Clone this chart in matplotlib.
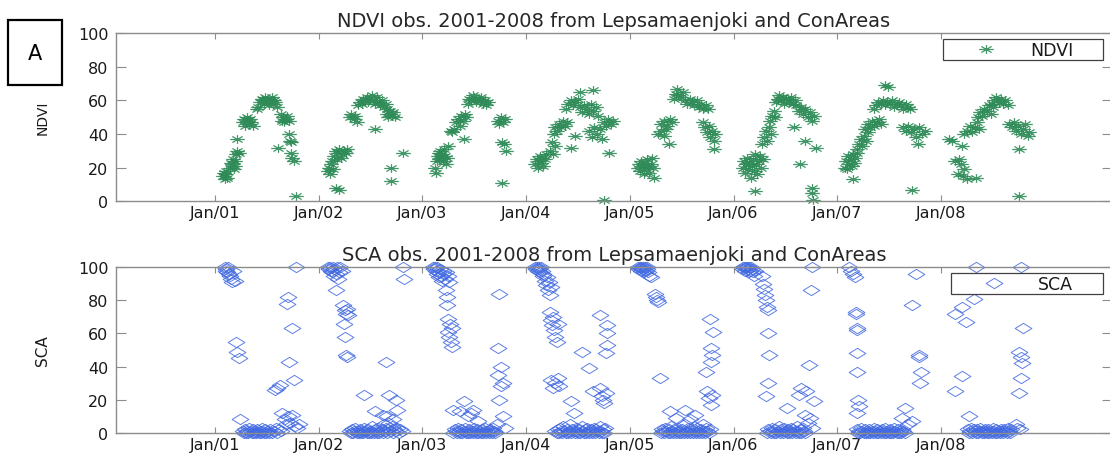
import matplotlib
matplotlib.use("Agg")
import matplotlib.pyplot as plt
from matplotlib.path import Path
from matplotlib.patches import Rectangle

# ---------------- data (day-of-year, value) per year ----------------
years = [2001, 2002, 2003, 2004, 2005, 2006, 2007, 2008]
xtick_labels = ["Jan/01", "Jan/02", "Jan/03", "Jan/04", "Jan/05", "Jan/06", "Jan/07", "Jan/08"]

ndvi_2001 = [(30,15),(33,17),(36,13),(38,18),(40,16),(42,14),(55,20),(58,23),(62,22),(64,25),(66,19),
             (70,24),(72,21),(76,28),(80,30),(84,29),(78,37),(100,47),(104,49),(108,45),(112,50),(116,48),
             (120,46),(124,49),(128,47),(135,45),(148,55),(152,56),(160,59),(165,61),(170,60),(172,58),
             (176,62),(180,60),(184,59),(188,61),(192,57),(196,60),(200,62),(204,58),(208,60),(212,59),
             (218,56),(221,32),(232,52),(236,48),(240,50),(244,47),(250,49),(256,51),(262,48),(262,40),
             (266,36),(270,35),(268,29),(272,26),(278,24),(287,3)]
ndvi_2002 = [(34,18),(38,20),(40,16),(44,22),(47,24),(52,19),(56,27),(60,30),(64,25),(68,29),(72,31),
             (78,26),(84,28),(90,30),(96,29),(102,31),(62,8),(74,7),(110,50),(116,52),(124,49),(130,51),
             (136,47),(140,57),(146,59),(152,58),(158,61),(164,60),(170,62),(176,59),(182,61),(188,63),
             (194,60),(200,58),(206,62),(212,59),(218,57),(224,60),(230,56),(236,58),(242,55),(199,43),
             (240,52),(246,50),(252,54),(258,51),(264,53),(270,50),(254,20),(256,12),(297,29)]
ndvi_2003 = [(45,20),(48,17),(52,24),(55,27),(58,29),(61,25),(64,30),(67,26),(70,28),(73,24),(76,31),
             (80,27),(84,22),(88,26),(92,33),(100,42),(106,41),(112,43),(120,47),(126,49),(132,45),
             (138,51),(144,48),(150,52),(156,50),(146,37),(160,58),(166,61),(172,60),(178,63),(184,62),
             (190,59),(196,61),(202,60),(208,62),(214,58),(220,60),(226,57),(232,59),(266,48),(272,46),
             (278,50),(284,47),(290,49),(280,35),(288,34),(296,30),(282,11)]
ndvi_2004 = [(33,22),(38,25),(42,20),(46,24),(50,27),(54,23),(58,26),(62,21),(66,25),(70,28),(92,35),
             (98,40),(104,44),(86,30),(96,28),(104,33),(110,42),(116,46),(122,44),(130,48),(138,45),
             (146,47),(140,55),(150,58),(158,60),(166,57),(174,59),(182,61),(191,65),(235,66),(190,56),
             (198,53),(206,57),(214,55),(222,52),(230,58),(238,54),(246,56),(254,51),(160,32),(172,39),
             (224,42),(232,38),(240,44),(250,40),(260,43),(268,37),(274,47),(282,45),(290,49),(298,46),
             (306,48),(292,29),(274,1)]
ndvi_2005 = [(30,20),(34,22),(38,18),(42,24),(46,21),(50,16),(54,23),(58,19),(62,25),(66,21),(70,17),
             (74,22),(78,26),(82,20),(86,14),(100,40),(110,42),(120,39),(130,43),(140,34),(112,46),
             (122,48),(132,45),(142,49),(150,47),(156,61),(162,64),(166,67),(172,63),(180,62),(188,65),
             (196,60),(204,58),(212,61),(220,59),(228,57),(236,60),(244,56),(252,58),(260,55),(268,57),
             (276,55),(260,47),(266,44),(272,41),(278,45),(284,38),(290,42),(296,36),(302,40),(298,31)]
ndvi_2006 = [(33,20),(37,24),(41,17),(45,22),(49,26),(53,19),(57,23),(61,14),(65,21),(69,25),(73,18),
             (77,28),(81,22),(85,16),(89,24),(93,27),(97,20),(105,25),(77,6),(100,34),(108,38),(114,42),
             (120,36),(126,44),(132,40),(130,48),(136,51),(142,54),(148,50),(150,59),(156,61),(162,63),
             (168,60),(174,62),(180,58),(186,61),(192,60),(198,59),(204,62),(210,58),(216,60),(222,57),
             (230,54),(238,56),(246,52),(254,55),(262,50),(270,53),(278,48),(286,51),(215,44),(234,22),
             (253,36),(290,32),(276,8),(278,5),(280,1)]
ndvi_2007 = [(28,20),(32,24),(36,19),(40,27),(44,22),(48,25),(52,21),(56,28),(60,23),(64,26),(70,29),
             (57,13),(72,31),(78,34),(84,37),(90,33),(96,39),(102,36),(108,41),(100,43),(108,46),(116,44),
             (124,48),(132,45),(140,47),(148,49),(156,46),(130,55),(138,57),(146,59),(154,58),(162,60),
             (170,57),(178,59),(186,58),(194,60),(202,56),(210,58),(218,59),(226,57),(234,55),(242,58),
             (250,56),(258,55),(168,69),(180,68),(234,44),(242,42),(250,45),(260,41),(270,43),(280,38),
             (290,44),(300,40),(310,42),(264,7),(285,34)]
ndvi_2008 = [(28,37),(40,36),(75,33),(50,24),(60,16),(66,25),(72,22),(78,15),(84,19),(92,13),(126,14),
             (84,40),(94,42),(104,45),(112,41),(120,44),(128,47),(136,43),(130,50),(138,53),(146,51),
             (154,55),(162,54),(170,57),(178,52),(186,56),(180,58),(188,60),(196,62),(204,59),(212,61),
             (220,58),(228,60),(236,57),(240,46),(250,44),(258,47),(266,42),(274,45),(282,40),(290,43),
             (298,46),(306,39),(312,41),(277,31),(276,3)]

sca_2001 = [(35,100),(38,99),(41,98),(44,97),(47,100),(50,96),(53,95),(56,93),(60,91),(64,98),(70,92),
            (76,55),(80,49),(84,45),(88,8),(98,1),(102,0),(106,2),(110,0),(114,1),(118,0),(122,3),(126,1),
            (130,0),(134,2),(138,0),(142,1),(146,0),(150,2),(154,0),(158,1),(162,0),(166,3),(170,1),
            (174,0),(178,2),(182,0),(186,1),(190,0),(196,2),(202,0),(208,1),(214,3),(220,0),(226,2),
            (232,1),(212,26),(220,27),(228,29),(238,12),(246,8),(252,5),(258,10),(266,6),(272,11),
            (258,82),(256,78),(272,63),(262,43),(280,32),(287,100),(282,4),(290,3),(296,5)]
sca_2002 = [(35,100),(38,99),(41,100),(44,98),(47,97),(50,100),(53,99),(56,95),(60,96),(64,100),(68,93),
            (72,97),(76,100),(82,98),(60,86),(88,77),(92,74),(96,72),(100,75),(104,71),(90,66),(92,58),
            (98,47),(100,46),(110,1),(114,0),(118,2),(122,0),(126,1),(130,3),(134,0),(138,1),(142,0),
            (146,2),(150,0),(154,1),(158,0),(162,3),(166,1),(170,0),(174,2),(178,0),(182,1),(186,0),
            (190,4),(194,0),(198,2),(202,1),(206,0),(210,3),(214,0),(218,1),(222,2),(226,0),(230,5),
            (234,1),(238,3),(242,0),(246,2),(250,6),(254,1),(258,4),(262,0),(266,2),(270,1),(276,3),
            (282,0),(288,2),(294,1),(161,23),(198,13),(236,43),(249,23),(272,20),(276,14),(262,8),
            (240,10),(228,11),(299,100),(300,93)]
sca_2003 = [(39,100),(42,99),(45,100),(48,98),(51,96),(54,100),(57,97),(60,94),(63,99),(66,95),(69,92),
            (72,98),(75,96),(80,93),(85,97),(90,95),(95,91),(83,86),(86,82),(88,77),(92,69),(98,66),
            (104,63),(90,61),(96,58),(100,55),(106,52),(110,0),(114,2),(118,1),(122,0),(126,3),(130,1),
            (134,0),(138,2),(142,0),(146,1),(150,3),(154,0),(158,1),(162,0),(166,2),(170,0),(174,1),
            (178,0),(182,3),(186,1),(190,0),(194,2),(198,0),(202,1),(206,0),(210,2),(214,0),(218,1),
            (222,3),(226,0),(230,1),(234,0),(238,2),(242,1),(246,0),(250,3),(254,1),(258,0),(110,14),
            (146,19),(171,12),(196,7),(134,13),(160,10),(180,14),(272,84),(267,51),(278,40),(266,35),
            (284,30),(272,20),(284,10),(276,28),(262,5),(290,3)]
sca_2004 = [(33,100),(36,99),(39,100),(42,98),(45,100),(48,99),(51,97),(54,100),(57,98),(60,96),(62,95),
            (66,92),(70,89),(74,94),(78,86),(82,91),(86,83),(90,88),(84,73),(88,68),(92,65),(96,70),
            (100,62),(104,58),(108,55),(112,66),(90,32),(96,27),(104,30),(112,33),(116,28),(104,1),
            (108,0),(112,2),(116,0),(120,3),(124,1),(128,0),(132,4),(136,1),(140,0),(144,2),(148,0),
            (152,1),(156,5),(160,0),(164,2),(168,1),(172,0),(176,3),(180,1),(184,0),(188,2),(192,0),
            (196,4),(200,1),(204,0),(208,2),(212,0),(216,3),(220,1),(224,0),(228,2),(232,0),(236,1),
            (240,3),(244,0),(248,2),(252,1),(256,0),(260,4),(264,1),(268,0),(272,2),(276,0),(280,3),
            (197,49),(222,39),(160,19),(170,12),(235,25),(262,27),(268,22),(276,18),(282,24),(272,20),
            (260,71),(285,65),(286,60),(284,53),(283,48)]
sca_2005 = [(30,100),(33,99),(36,100),(39,98),(42,100),(45,99),(48,100),(51,97),(54,100),(57,98),(60,100),
            (63,99),(66,97),(70,95),(74,94),(90,84),(94,82),(98,80),(100,79),(106,33),(110,0),(114,2),
            (118,1),(122,0),(126,3),(130,1),(134,0),(138,2),(142,0),(146,4),(150,1),(154,0),(158,2),
            (162,0),(166,1),(170,3),(174,0),(178,1),(182,0),(186,2),(190,0),(194,5),(198,1),(202,0),
            (206,3),(210,1),(214,0),(218,2),(222,0),(226,4),(230,1),(234,0),(238,3),(242,1),(246,0),
            (250,2),(254,0),(258,5),(262,1),(266,0),(270,3),(274,1),(278,0),(282,2),(143,13),(194,14),
            (231,11),(165,9),(212,8),(282,69),(294,61),(285,51),(290,47),(288,43),(269,37),(272,25),
            (280,21),(286,17),(290,23)]
sca_2006 = [(33,100),(36,99),(39,100),(42,98),(45,100),(48,100),(51,99),(54,97),(57,100),(60,98),(63,100),
            (66,99),(70,97),(74,95),(78,98),(102,95),(104,90),(108,87),(112,83),(116,80),(120,76),
            (124,74),(121,60),(127,47),(121,30),(114,22),(120,0),(124,2),(128,1),(132,0),(136,3),
            (140,1),(144,0),(148,2),(152,0),(156,1),(160,4),(164,0),(168,2),(172,1),(176,0),(180,3),
            (184,1),(188,0),(192,2),(196,0),(200,1),(204,3),(208,0),(212,2),(216,1),(220,0),(224,4),
            (228,1),(232,0),(236,2),(240,0),(244,3),(248,1),(252,0),(190,15),(232,23),(240,27),(256,25),
            (284,19),(253,11),(262,6),(270,9),(276,3),(265,41),(278,100),(272,86)]
sca_2007 = [(44,100),(50,98),(56,96),(62,94),(66,73),(68,72),(70,63),(69,62),(72,48),(70,37),(74,20),
            (76,16),(72,12),(70,2),(74,0),(78,1),(82,0),(86,3),(90,1),(94,0),(98,2),(102,0),(106,1),
            (110,0),(114,2),(118,0),(122,1),(126,0),(130,3),(134,1),(138,0),(142,2),(146,0),(150,1),
            (154,0),(158,2),(162,1),(166,0),(170,3),(174,0),(178,1),(182,0),(186,2),(190,0),(194,1),
            (198,0),(202,3),(206,1),(210,0),(214,2),(218,0),(222,1),(226,0),(230,2),(234,1),(238,0),
            (239,15),(264,7),(250,5),(228,9),(264,77),(277,96),(289,47),(290,46),(295,37),(292,30)]
sca_2008 = [(50,72),(75,76),(88,67),(119,81),(126,100),(75,34),(50,25),(101,10),(96,2),(100,0),(104,1),
            (108,3),(112,0),(116,2),(120,1),(124,0),(128,2),(132,0),(136,1),(140,3),(144,0),(148,1),
            (152,0),(156,2),(160,1),(164,0),(168,2),(172,0),(176,1),(180,0),(184,3),(188,1),(192,0),
            (196,2),(200,0),(204,1),(208,0),(212,2),(216,1),(220,0),(224,2),(228,1),(232,0),(236,3),
            (240,1),(244,0),(248,2),(283,100),(289,63),(276,49),(282,46),(286,42),(283,33),(277,24),
            (264,5),(270,3),(280,2)]

ndvi_by_year = [ndvi_2001, ndvi_2002, ndvi_2003, ndvi_2004, ndvi_2005, ndvi_2006, ndvi_2007, ndvi_2008]
sca_by_year = [sca_2001, sca_2002, sca_2003, sca_2004, sca_2005, sca_2006, sca_2007, sca_2008]


def to_xy(groups):
    xs, ys = [], []
    for yr, pairs in zip(years, groups):
        for doy, v in pairs:
            xs.append(yr + (doy - 1) / 365.0)
            ys.append(v)
    return xs, ys


ndvi_t, ndvi_v = to_xy(ndvi_by_year)
sca_t, sca_v = to_xy(sca_by_year)

# ---------------- marker shapes (horizontally stretched, as in the picture) ----------------
ast_path = Path(
    [(-1, 0), (1, 0), (0, -0.6), (0, 0.6), (-0.7, -0.42), (0.7, 0.42), (-0.7, 0.42), (0.7, -0.42)],
    [Path.MOVETO, Path.LINETO] * 4,
)
dia_path = Path([(-1, 0), (0, 0.62), (1, 0), (0, -0.62), (-1, 0)],
                [Path.MOVETO, Path.LINETO, Path.LINETO, Path.LINETO, Path.CLOSEPOLY])

green = "#2e8b57"
blue = "#4169e1"
spine_col = "#8c8c8c"
W, H = 1110, 456

plt.rcParams["font.family"] = ["DejaVu Sans"]
fig = plt.figure(figsize=(W / 100, H / 100), dpi=100)

ax1 = fig.add_axes([115.5 / W, 1 - 202.3 / H, 996.5 / W, 168.1 / H])
ax2 = fig.add_axes([115.5 / W, 1 - 433.7 / H, 996.5 / W, 165.4 / H])


def style(ax, title, ylabel, ylab_size):
    ax.set_xlim(2000.04, 2009.65)
    ax.set_ylim(0, 100)
    ax.set_xticks(years)
    ax.set_xticklabels(xtick_labels)
    ax.set_yticks([0, 20, 40, 60, 80, 100])
    for s in ax.spines.values():
        s.set_color(spine_col)
        s.set_linewidth(1.0)
    ax.tick_params(axis="both", direction="in", top=True, right=True, colors=spine_col,
                   labelcolor="#1a1a1a", labelsize=11.5, width=0.8)
    ax.tick_params(axis="y", length=7.2, pad=5)
    ax.tick_params(axis="x", length=4.3, pad=3)
    ax.set_title(title, fontsize=14, color="#262626", pad=5)
    ax.set_ylabel(ylabel, fontsize=ylab_size, color="#1a1a1a")
    ax.yaxis.set_label_coords(-0.0657, 0.5)


ax1.plot(ndvi_t, ndvi_v, linestyle="none", marker=ast_path, markersize=10.5,
         markeredgecolor=green, markerfacecolor="none", markeredgewidth=0.9, alpha=0.9,
         clip_on=False, label="NDVI")
ax2.plot(sca_t, sca_v, linestyle="none", marker=dia_path, markersize=12,
         markeredgecolor=blue, markerfacecolor="none", markeredgewidth=0.7, alpha=0.85,
         clip_on=False, label="SCA")

style(ax1, "NDVI obs. 2001-2008 from Lepsamaenjoki and ConAreas", "NDVI", 10)
style(ax2, "SCA obs. 2001-2008 from Lepsamaenjoki and ConAreas", "SCA", 11)

for ax, x0, top in [(ax1, (943 - 115.5) / 996.5, (202.3 - 40) / 168.1),
                    (ax2, (951 - 115.5) / 996.5, (433.7 - 274) / 165.4)]:
    w = (1103 - 115.5) / 996.5 - x0
    leg = ax.legend(loc="upper left", bbox_to_anchor=(x0, top - 0.2, w, 0.2), mode="expand",
                    borderaxespad=0, fontsize=12.5, handlelength=4.8, handletextpad=0.1,
                    borderpad=0.1, fancybox=False, framealpha=1, numpoints=1)
    leg.get_frame().set_edgecolor("#404040")
    leg.get_frame().set_linewidth(0.9)
    for t in leg.get_texts():
        t.set_color("#1a1a1a")

# panel label "A"
fig.patches.append(Rectangle((8 / W, 1 - 86 / H), 54 / W, 65 / H, transform=fig.transFigure,
                             fill=False, edgecolor="black", linewidth=1.6))
fig.text(35 / W, 1 - 53.5 / H, "A", fontsize=15, ha="center", va="center", color="black")

fig.savefig("out.png", dpi=100)
